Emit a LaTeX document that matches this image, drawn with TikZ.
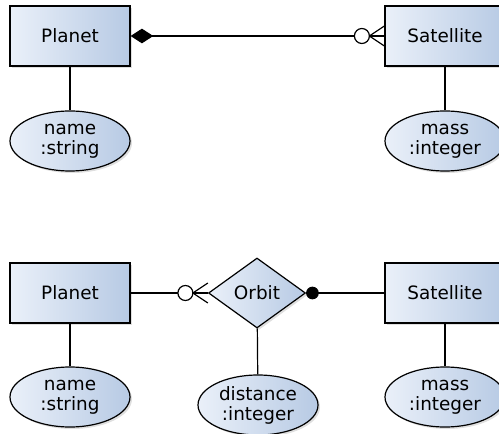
\documentclass[tikz,border=0pt]{standalone}
\usepackage{fontspec}
\setmainfont{DejaVu Sans}
\usetikzlibrary{arrows.meta,shapes.geometric,shadows}

\definecolor{erlight}{RGB}{234,240,249}
\definecolor{erdark}{RGB}{183,202,228}

\tikzset{
    erbase/.style={draw=black, line width=0.9pt, left color=erlight, right color=erdark,
        drop shadow={shadow xshift=1.5pt, shadow yshift=-1.5pt, opacity=0.25},
        font=\fontsize{13.8}{15}\selectfont, align=center, inner sep=0pt},
    entity/.style={erbase, rectangle, minimum width=90pt, minimum height=45pt},
    attrib/.style={erbase, ellipse, minimum width=90pt, minimum height=45pt},
    relation/.style={erbase, diamond, minimum width=72.75pt, minimum height=52.5pt},
    link/.style={line width=0.9pt},
    zeromany/.pic={
        \draw[link] (-15,0) -- (0,-10) (-15,0) -- (0,10);
        \draw[link, fill=white] (-22.5,0) circle (7.5);
    }
}

\begin{document}
\begin{tikzpicture}[x=0.75pt, y=-0.75pt]

            \useasboundingbox (0,0) rectangle (499,434);

            %----- TOP: PLANET -- SATELLITE -----
            \node[entity] (planetA) at (70,36) {Planet};
            \node[entity] (satA) at (445,36) {Satellite};
            \node[attrib] (nameA) at (70,141) {name\\:string};
            \node[attrib] (massA) at (445,141) {mass\\:integer};

            \draw[link] (planetA) -- (nameA);
            \draw[link] (satA) -- (massA);
            \draw[link, {Diamond[length=17pt, width=11pt]}-] (planetA.east) -- (satA.west);
            \pic at (satA.west) {zeromany};

            %----- BOTTOM: PLANET -- ORBIT -- SATELLITE -----
            \node[entity] (planetB) at (70,293) {Planet};
            \node[relation] (orbit) at (257,293) {Orbit};
            \node[entity] (satB) at (445,293) {Satellite};
            \node[attrib] (nameB) at (70,397) {name\\:string};
            \node[attrib] (distB) at (258,405) {distance\\:integer};
            \node[attrib] (massB) at (445,397) {mass\\:integer};

            \draw[link] (planetB) -- (nameB);
            \draw[link] (orbit) -- (distB);
            \draw[link] (satB) -- (massB);
            \draw[link] (planetB.east) -- (orbit.west);
            \pic at (orbit.west) {zeromany};
            \draw[link, {Circle[length=9.5pt]}-] (orbit.east) -- (satB.west);

        \end{tikzpicture}
\end{document}
